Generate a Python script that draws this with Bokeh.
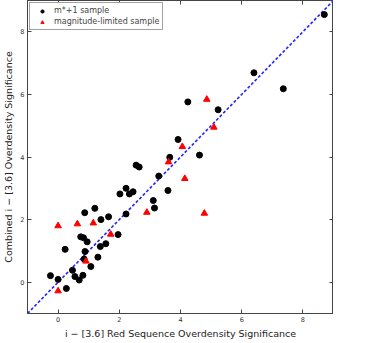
from bokeh.plotting import figure
from bokeh.models import LinearAxis, Range1d, FixedTicker, Legend, LegendItem
from bokeh.embed import file_html
from bokeh.resources import INLINE

# m*+1 sample (black circles)
m1_x = [-0.25, 0.0, 0.27, 0.23, 0.47, 0.55, 0.69, 0.81, 0.85, 0.88, 0.74, 0.83, 0.95,
        0.87, 1.2, 1.07, 1.3, 1.38, 1.4, 1.56, 1.65, 1.96, 2.02, 2.22, 2.22, 2.33, 2.45,
        2.55, 2.65, 3.29, 3.11, 3.15, 3.59, 4.24, 5.23, 3.92, 3.65, 4.62, 8.7, 6.4, 7.36]
m1_y = [0.21, 0.09, -0.2, 1.05, 0.38, 0.18, 0.07, 0.22, 0.74, 0.98, 1.45, 1.42, 1.29,
        2.22, 2.36, 0.5, 0.8, 1.14, 2.0, 1.23, 2.09, 1.52, 2.82, 2.18, 3.0, 2.82, 2.89,
        3.74, 3.68, 3.39, 2.61, 2.37, 2.93, 5.76, 5.51, 4.56, 3.99, 4.06, 8.55, 6.69, 6.18]

# magnitude-limited sample (red triangles)
ml_x = [0.0, 0.0, 0.63, 1.15, 1.72, 0.91, 2.9, 4.14, 4.86, 5.09, 4.06, 3.61, 4.78]
ml_y = [1.8, -0.28, 1.86, 1.89, 1.53, 0.67, 2.23, 3.31, 5.84, 4.95, 4.33, 3.84, 2.2]

# one-to-one line
line_x = [-1, 9]
line_y = [-1, 9]

x_ticks = [0, 2, 4, 6, 8]
y_ticks = [0, 2, 4, 6, 8]

FRAME = "#444444"

p = figure(frame_width=306, frame_height=313,
           x_range=Range1d(-1, 9), y_range=Range1d(-1, 9),
           output_backend="svg", toolbar_location=None,
           min_border_left=0, min_border_right=0, min_border_top=0, min_border_bottom=0)
p.grid.visible = False
p.outline_line_color = FRAME
p.outline_line_width = 1
p.background_fill_color = "white"
p.border_fill_color = "white"

p.line(line_x, line_y, line_color="#2222ff", line_width=1.6, line_dash="3 2")
r1 = p.scatter(m1_x, m1_y, marker="circle", size=6, fill_color="black", line_color="black")
r2 = p.scatter(ml_x, ml_y, marker="triangle", size=6.5, fill_color="red", line_color="red")

for ax in [p.xaxis[0], p.yaxis[0]]:
    ax.major_tick_in = 4
    ax.major_tick_out = 0
    ax.minor_tick_line_color = None
    ax.axis_line_color = FRAME
    ax.major_tick_line_color = FRAME
    ax.major_label_text_font = "DejaVu Sans"
    ax.major_label_text_font_size = "6.5px"
    ax.major_label_text_color = "#333333"
    ax.major_label_standoff = 3
    ax.axis_label_text_font = "DejaVu Sans"
    ax.axis_label_text_font_size = "9.5px"
    ax.axis_label_text_font_style = "normal"
    ax.axis_label_text_color = "#222222"
    ax.axis_label_standoff = 3

p.xaxis[0].ticker = FixedTicker(ticks=x_ticks)
p.yaxis[0].ticker = FixedTicker(ticks=y_ticks)
p.xaxis[0].axis_label = "i \u2212 [3.6] Red Sequence Overdensity Significance"
p.yaxis[0].axis_label = "Combined i \u2212 [3.6] Overdensity Significance"

top = LinearAxis(ticker=FixedTicker(ticks=x_ticks), major_label_text_color=None,
                 major_label_standoff=0, major_label_text_font_size="1px",
                 major_tick_in=4, major_tick_out=0, minor_tick_line_color=None,
                 axis_line_color=FRAME, major_tick_line_color=FRAME)
right = LinearAxis(ticker=FixedTicker(ticks=y_ticks), major_label_text_color=None,
                   major_label_standoff=0, major_label_text_font_size="1px",
                   major_tick_in=4, major_tick_out=0, minor_tick_line_color=None,
                   axis_line_color=FRAME, major_tick_line_color=FRAME)
p.add_layout(top, "above")
p.add_layout(right, "right")

legend = Legend(items=[LegendItem(label="m*+1 sample", renderers=[r1]),
                       LegendItem(label="magnitude-limited sample", renderers=[r2])],
                location="top_left")
legend.label_text_font = "DejaVu Sans"
legend.label_text_font_size = "8px"
legend.label_height = 8
legend.glyph_height = 8
legend.glyph_width = 18
legend.spacing = 2
legend.padding = 3
legend.margin = 2
legend.label_standoff = 3
legend.border_line_color = FRAME
legend.border_line_width = 1
legend.background_fill_alpha = 1
p.add_layout(legend)

open("out.html", "w").write(file_html(p, INLINE))
